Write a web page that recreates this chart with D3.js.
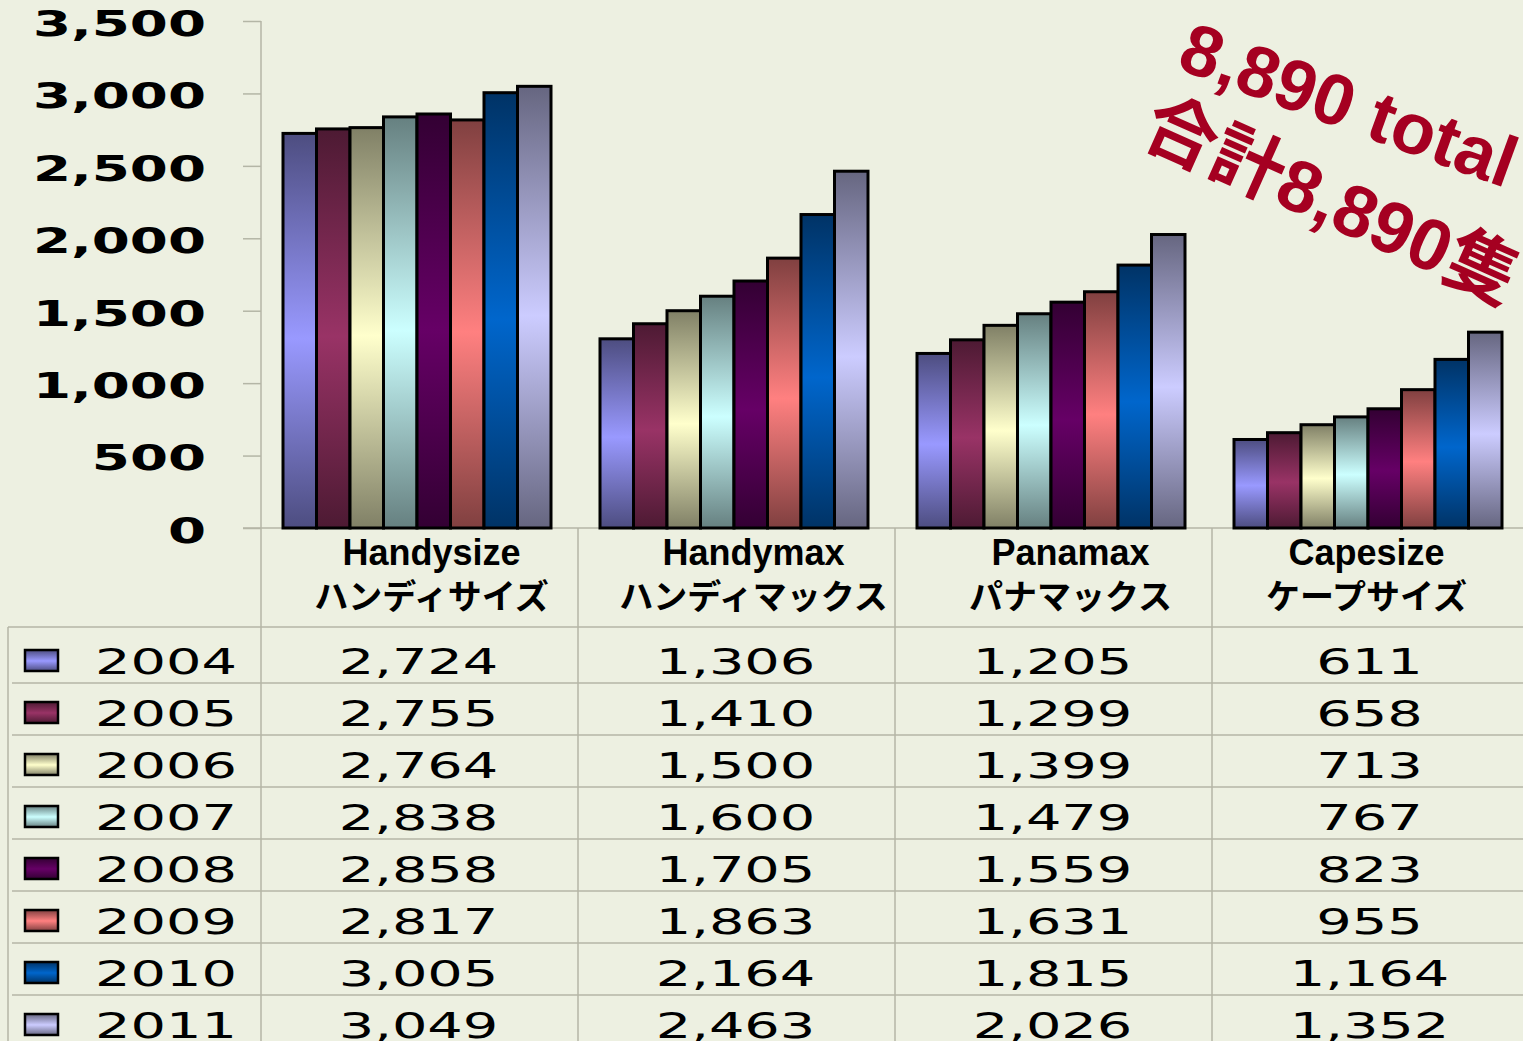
<!DOCTYPE html>
<html>
<head>
<meta charset="utf-8">
<script src="https://cdn.jsdelivr.net/npm/d3@7"></script>
<style>
  html, body { margin: 0; padding: 0; background: #edf0e1; overflow: hidden; }
  svg { display: block; }
</style>
</head>
<body>
<svg id="grafico"></svg>
<script>
// dados
var categorias = ['Handysize', 'Handymax', 'Panamax', 'Capesize'];
var categoriasJP = ['ハンディサイズ', 'ハンディマックス', 'パナマックス', 'ケープサイズ'];
var anos = ['2004', '2005', '2006', '2007', '2008', '2009', '2010', '2011'];
var valores = {
  '2004': [2724, 1306, 1205, 611],
  '2005': [2755, 1410, 1299, 658],
  '2006': [2764, 1500, 1399, 713],
  '2007': [2838, 1600, 1479, 767],
  '2008': [2858, 1705, 1559, 823],
  '2009': [2817, 1863, 1631, 955],
  '2010': [3005, 2164, 1815, 1164],
  '2011': [3049, 2463, 2026, 1352]
};
var ticksY = [0, 500, 1000, 1500, 2000, 2500, 3000, 3500];
var cores = ['#9999ff', '#993366', '#ffffcc', '#ccffff', '#660066', '#ff8080', '#0066cc', '#ccccff'];

var largura = 1523, altura = 1041;
var corGrade = '#b4b6a6';
var ajusteCabecalho = [12, 17, 17, -4];

var svg = d3.select('#grafico')
            .attr('width', largura)
            .attr('height', altura);

svg.append('rect')
   .attr('width', largura).attr('height', altura)
   .attr('fill', '#edf0e1');

// gradientes (escuro - claro - escuro)
var defs = svg.append('defs');
var corAno = d3.scaleOrdinal().domain(anos).range(cores);
anos.forEach(function(a) {
  var c = corAno(a);
  var escuro = d3.interpolateRgb(c, '#000')(0.5);
  var g = defs.append('linearGradient')
              .attr('id', 'grad' + a)
              .attr('x1', 0).attr('y1', 0).attr('x2', 0).attr('y2', 1);
  g.append('stop').attr('offset', '0%').attr('stop-color', escuro);
  g.append('stop').attr('offset', '52%').attr('stop-color', c);
  g.append('stop').attr('offset', '100%').attr('stop-color', escuro);
});

var y = d3.scaleLinear().domain([0, 3500]).range([528, 21]);
var x = d3.scaleBand().domain(categorias).range([261, 1529]);
var xAno = d3.scaleBand().domain(anos).range([22, 290]);

// linhas da tabela
var linhas = svg.append('g').attr('stroke', corGrade).attr('stroke-width', 1.5);
linhas.append('line').attr('x1', 261).attr('x2', 261).attr('y1', 21).attr('y2', altura);
categorias.slice(1).forEach(function(c) {
  linhas.append('line').attr('x1', x(c)).attr('x2', x(c)).attr('y1', 528).attr('y2', altura);
});
linhas.append('line').attr('x1', 243).attr('x2', largura).attr('y1', 528).attr('y2', 528);
linhas.append('line').attr('x1', 8).attr('x2', largura).attr('y1', 627).attr('y2', 627);
linhas.append('line').attr('x1', 8).attr('x2', 8).attr('y1', 627).attr('y2', altura);
var topoLinha = d3.scaleLinear().domain([0, 1]).range([683, 735]);
anos.forEach(function(a, i) {
  linhas.append('line').attr('x1', 12).attr('x2', largura)
        .attr('y1', topoLinha(i)).attr('y2', topoLinha(i));
});

// eixo Y
var eixoY = d3.axisLeft(y).tickValues(ticksY).tickSize(18).tickFormat(d3.format(','));
var gEixo = svg.append('g')
               .attr('transform', 'translate(261,0)')
               .call(eixoY);
gEixo.select('.domain').remove();
gEixo.selectAll('.tick line').attr('stroke', corGrade).attr('stroke-width', 1.5);
gEixo.selectAll('.tick text')
     .attr('x', -55 / 1.52)
     .attr('dy', '0.40em')
     .attr('transform', 'scale(1.52,1)')
     .style('font-family', 'DejaVu Sans')
     .style('font-weight', 'bold')
     .style('font-size', '36px')
     .attr('fill', '#000');

// barras
var grupos = svg.selectAll('.grupo')
  .data(categorias)
  .enter()
    .append('g')
    .classed('grupo', true)
    .attr('transform', d => 'translate(' + x(d) + ',0)');

grupos.selectAll('.barra')
  .data((d, i) => anos.map(a => ({ ano: a, valor: valores[a][i] })))
  .enter()
    .append('rect')
    .classed('barra', true)
    .attr('x', d => xAno(d.ano))
    .attr('y', d => y(d.valor))
    .attr('width', xAno.bandwidth())
    .attr('height', d => y(0) - y(d.valor))
    .attr('fill', d => 'url(#grad' + d.ano + ')')
    .attr('stroke', '#000')
    .attr('stroke-width', 3);

// cabeçalhos
grupos.append('text')
  .text(d => d)
  .attr('x', (d, i) => x.bandwidth() / 2 + ajusteCabecalho[i])
  .attr('y', 565)
  .style('text-anchor', 'middle')
  .style('font-family', 'Liberation Sans, Arial, sans-serif')
  .style('font-weight', 'bold')
  .style('font-size', '36px');

grupos.append('text')
  .text((d, i) => categoriasJP[i])
  .attr('x', (d, i) => x.bandwidth() / 2 + ajusteCabecalho[i])
  .attr('y', 609)
  .style('text-anchor', 'middle')
  .style('font-family', 'Noto Sans CJK JP')
  .style('font-weight', 'bold')
  .style('font-size', '34px');

// tabela de valores
var linhaBase = d3.scaleLinear().domain([0, 1]).range([674, 726]);
var fmt = d3.format(',');

anos.forEach(function(a, i) {
  var by = linhaBase(i);
  svg.append('rect')
     .attr('x', 25).attr('y', by - 24)
     .attr('width', 33).attr('height', 21)
     .attr('fill', 'url(#grad' + a + ')')
     .attr('stroke', '#000').attr('stroke-width', 2.5);
  svg.append('text')
     .text(a)
     .attr('transform', 'translate(95,' + by + ') scale(1.55,1)')
     .style('font-family', 'DejaVu Sans')
     .style('font-size', '36px');
  categorias.forEach(function(c, j) {
    svg.append('text')
       .text(fmt(valores[a][j]))
       .attr('transform', 'translate(' + (x(c) + x.bandwidth() / 2 - 1) + ',' + by + ') scale(1.55,1)')
       .style('text-anchor', 'middle')
       .style('font-family', 'DejaVu Sans')
       .style('font-size', '36px');
  });
});

// total
svg.append('text')
   .text('8,890 total')
   .attr('transform', 'translate(1175,68) rotate(20)')
   .style('font-family', 'Liberation Sans, Arial, sans-serif')
   .style('font-weight', 'bold')
   .style('font-size', '72px')
   .attr('fill', '#a50021');
svg.append('text')
   .text('合計8,890隻')
   .attr('transform', 'translate(1138,142) rotate(24)')
   .style('font-family', 'Liberation Sans, Noto Sans CJK JP, sans-serif')
   .style('font-weight', 'bold')
   .style('font-size', '73px')
   .attr('fill', '#a50021');
</script>
</body>
</html>
